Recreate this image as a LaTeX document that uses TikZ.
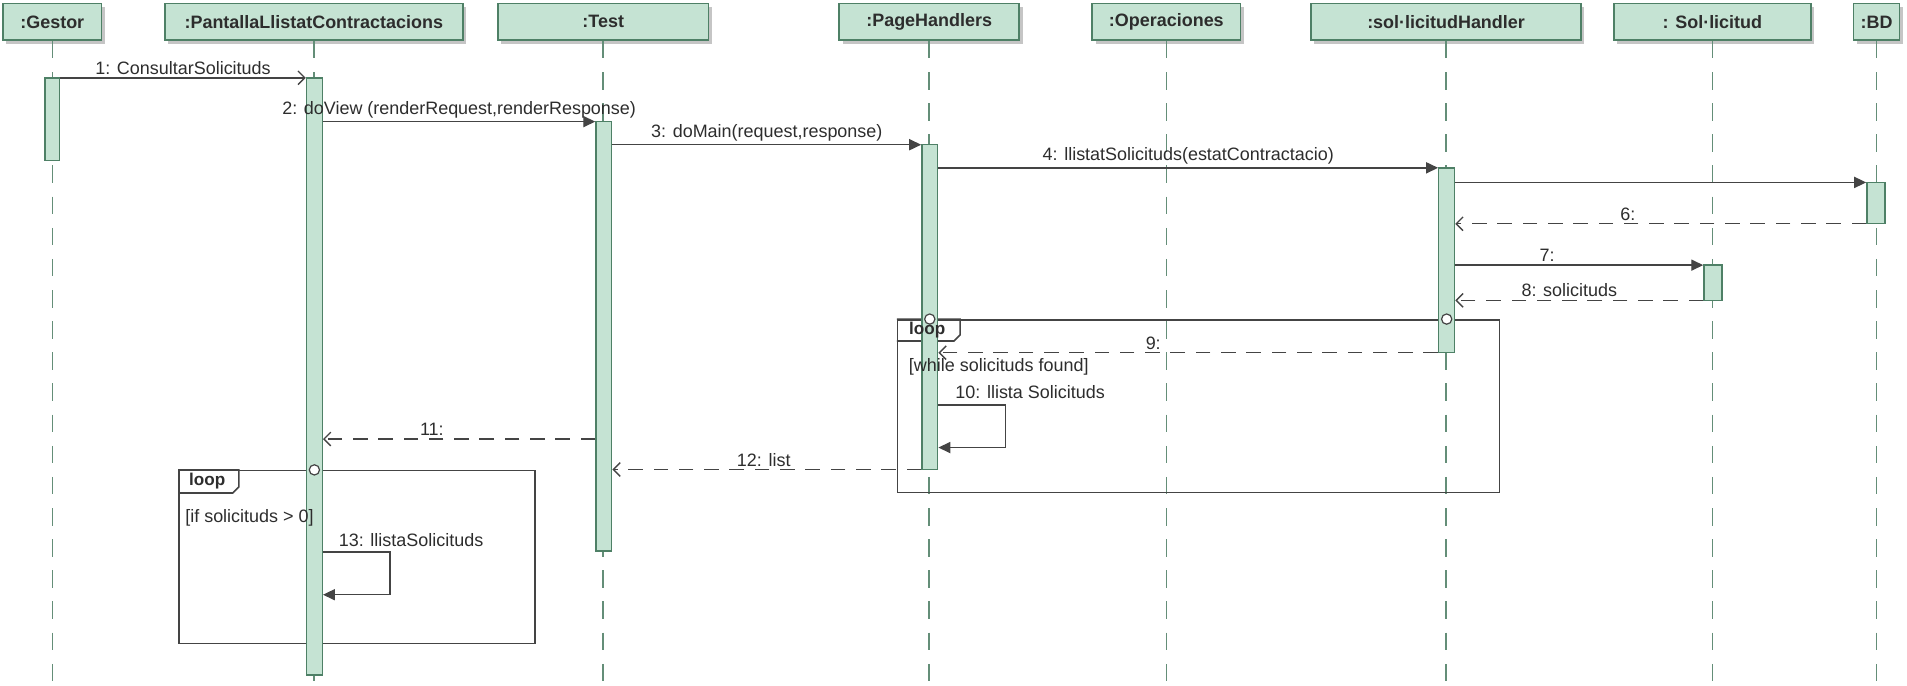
\documentclass[tikz,border=0pt]{standalone}
\usepackage{fontspec}
\setmainfont{Liberation Sans}
\usetikzlibrary{arrows.meta, positioning, fit, shadows, calc}
\definecolor{umlfill}{RGB}{197,227,211}
\definecolor{umledge}{RGB}{78,128,102}
\definecolor{umllife}{RGB}{100,142,120}
\definecolor{msgcol}{RGB}{68,68,68}
\definecolor{txtcol}{RGB}{45,45,45}
\tikzset{
  % capcaleres i barres d'activacio
  head/.style={draw=umledge, fill=umlfill, line width=0.9pt, inner sep=0, minimum height=0.75cm,
    text=txtcol, font=\bfseries\fontsize{10.5}{12}\selectfont,
    drop shadow={shadow xshift=2pt, shadow yshift=-2pt, fill=black!45, opacity=0.5}},
  act/.style={draw=umledge, fill=umlfill, line width=0.8pt, inner sep=0},
  lifeline/.style={umllife, line width=0.9pt, dash pattern=on 0.36cm off 0.28cm},
  % missatges
  msg/.style={msgcol, line width=0.8pt, -{Triangle[length=7pt,width=6.5pt]}},
  call/.style={msgcol, line width=0.8pt, -{Straight Barb[length=4pt,width=8pt]}},
  reply/.style={msgcol, line width=0.8pt, dash pattern=on 0.3cm off 0.22cm,
    -{Straight Barb[length=4pt,width=8pt]}},
  lbl/.style={text=txtcol, font=\fontsize{10.5}{12}\selectfont, inner sep=1.5pt},
  % fragments combinats
  frame/.style={draw=msgcol, line width=0.9pt, inner sep=0},
  tablbl/.style={text=txtcol, font=\bfseries\fontsize{10}{12}\selectfont, inner sep=0},
  gate/.style={circle, draw=msgcol, fill=white, line width=0.7pt, minimum size=6pt, inner sep=0}
}
\begin{document}
\begin{tikzpicture}[x=0.025cm, y=-0.025cm]
  \useasboundingbox (0,0) rectangle (1568,564);
  % capcaleres i linies de vida
  \foreach \n/\x/\w/\t in {Gestor/43/81/{:Gestor}, Pantalla/258/245/{:PantallaLlistatContractacions},
      Test/496/173/{:Test}, Page/764/148/{:PageHandlers}, Oper/959/122/{:Operaciones},
      Handler/1189/222/{:sol·licitudHandler}, Sol/1408/162/{: Sol·licitud}, BD/1543/38/{:BD}}{
    \node[head, minimum width=\w*0.025cm] (h\n) at (\x,18) {\t};
    \coordinate (e\n) at (\x,564);
    \draw[lifeline] (h\n.south) -- (e\n);
  }
  % files dels missatges
  \foreach \r/\y in {1/64, 2/100, 3/119, 4/138, 5/150, 6/184, 7/218, 8/247, 9/290,
      10/333, 10b/368, 11/361, 12/386, 13/454, 13b/489}
    \coordinate (r\r) at (0,\y);
  % loop de la dreta
  \node[frame, fit={(738,263) (1233,405)}] (loopA) {};
  \draw[frame] (loopA.north west) -- ++(52,0) -- ++(0,13) -- ++(-5,5) -- ++(-47,0);
  % loop de l'esquerra
  \node[frame, fit={(147,387) (440,529)}] (loopB) {};
  \draw[frame] (loopB.north west) -- ++(50,0) -- ++(0,14) -- ++(-5,5) -- ++(-45,0);
  % barres d'activacio
  \node[act, fit={(37,64) (49,132)}] (aGestor) {};
  \node[act, fit={(252,64) (265,555)}] (aPantalla) {};
  \node[act, fit={(490,100) (503,453)}] (aTest) {};
  \node[act, fit={(758,119) (771,386)}] (aPage) {};
  \node[act, fit={(1183,138) (1196,290)}] (aHandler) {};
  \node[act, fit={(1401,218) (1416,247)}] (aSol) {};
  \node[act, fit={(1535,150) (1550,184)}] (aBD) {};
  % etiquetes i guardes
  \node[tablbl] (tabA) at ($(loopA.north west)+(25,9)$) {loop};
  \node[tablbl] (tabB) at ($(loopB.north west)+(24,9.5)$) {loop};
  \node[lbl, anchor=west] (grdA) at (745,302) {[while solicituds found]};
  \node[lbl, anchor=west] (grdB) at (150,426) {[if solicituds > 0]};
  \node[gate] (gA1) at (aPage |- loopA.north) {};
  \node[gate] (gA2) at (aHandler |- loopA.north) {};
  \node[gate] (gB1) at (aPantalla |- loopB.north) {};
  % missatges
  \draw[call] (aGestor.east |- r1) -- node[lbl, above] (t1) {1: ConsultarSolicituds} (aPantalla.west |- r1);
  \draw[msg] (aPantalla.east |- r2) -- node[lbl, above] (t2) {2: doView (renderRequest,renderResponse)} (aTest.west |- r2);
  \draw[msg] (aTest.east |- r3) -- node[lbl, above] (t3) {3: doMain(request,response)} (aPage.west |- r3);
  \draw[msg] (aPage.east |- r4) -- node[lbl, above] (t4) {4: llistatSolicituds(estatContractacio)} (aHandler.west |- r4);
  \draw[msg] (aHandler.east |- r5) -- (aBD.west |- r5);
  \draw[reply] (aBD.west |- r6) -- node[lbl, above, pos=0.58] (t6) {6:} (aHandler.east |- r6);
  \draw[msg] (aHandler.east |- r7) -- node[lbl, above, pos=0.37] (t7) {7:} (aSol.west |- r7);
  \draw[reply] (aSol.west |- r8) -- node[lbl, above, pos=0.54] (t8) {8: solicituds} (aHandler.east |- r8);
  \draw[reply] (aHandler.west |- r9) -- node[lbl, above, pos=0.57] (t9) {9:} (aPage.east |- r9);
  \draw[msg] (aPage.east |- r10) -- ++(55,0) |- (aPage.east |- r10b);
  \node[lbl] (t10) at (847,322) {10: llista Solicituds};
  \draw[reply] (aTest.west |- r11) -- node[lbl, above, pos=0.6] (t11) {11:} (aPantalla.east |- r11);
  \draw[reply] (aPage.west |- r12) -- node[lbl, above, pos=0.51] (t12) {12: list} (aTest.east |- r12);
  \draw[msg] (aPantalla.east |- r13) -- ++(55,0) |- (aPantalla.east |- r13b);
  \node[lbl] (t13) at (338,444) {13: llistaSolicituds};
\end{tikzpicture}
\end{document}
